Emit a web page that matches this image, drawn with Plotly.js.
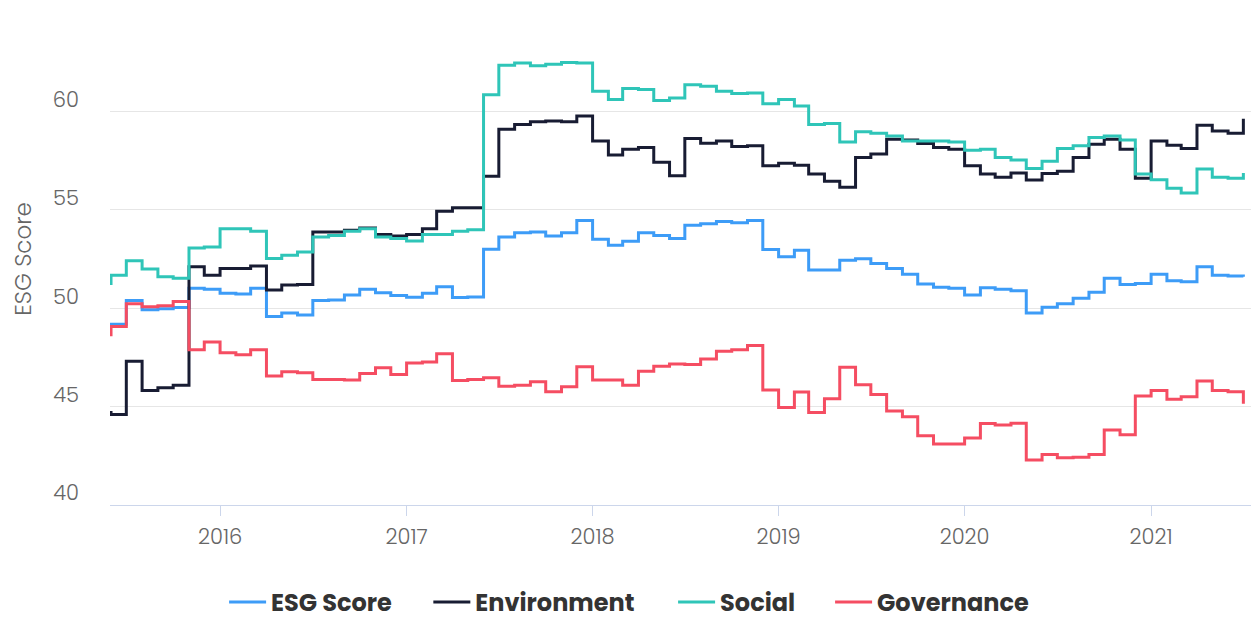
<!DOCTYPE html>
<html>
<head>
<meta charset="utf-8">
<script src="https://cdn.plot.ly/plotly-3.0.1.min.js"></script>
<style>
  html, body { margin: 0; padding: 0; background: #ffffff; }
  #chart { width: 1251px; height: 625px; }
</style>
</head>
<body>
<div id="chart"></div>
<script>
const months = [
  '2015-05-01','2015-06-01','2015-07-01','2015-08-01','2015-09-01','2015-10-01','2015-11-01','2015-12-01',
  '2016-01-01','2016-02-01','2016-03-01','2016-04-01','2016-05-01','2016-06-01','2016-07-01','2016-08-01','2016-09-01','2016-10-01','2016-11-01','2016-12-01',
  '2017-01-01','2017-02-01','2017-03-01','2017-04-01','2017-05-01','2017-06-01','2017-07-01','2017-08-01','2017-09-01','2017-10-01','2017-11-01','2017-12-01',
  '2018-01-01','2018-02-01','2018-03-01','2018-04-01','2018-05-01','2018-06-01','2018-07-01','2018-08-01','2018-09-01','2018-10-01','2018-11-01','2018-12-01',
  '2019-01-01','2019-02-01','2019-03-01','2019-04-01','2019-05-01','2019-06-01','2019-07-01','2019-08-01','2019-09-01','2019-10-01','2019-11-01','2019-12-01',
  '2020-01-01','2020-02-01','2020-03-01','2020-04-01','2020-05-01','2020-06-01','2020-07-01','2020-08-01','2020-09-01','2020-10-01','2020-11-01','2020-12-01',
  '2021-01-01','2021-02-01','2021-03-01','2021-04-01','2021-05-01','2021-06-01','2021-07-01'
];

const esgScore = [
  49.19, 49.19, 50.39, 49.92, 49.97, 50.03, 51.01, 50.96,
  50.76, 50.72, 51.01, 49.58, 49.75, 49.66, 50.39, 50.42, 50.67, 50.96, 50.79, 50.64,
  50.56, 50.76, 51.09, 50.54, 50.57, 53.00, 53.62, 53.84, 53.87, 53.67, 53.84, 54.46,
  53.50, 53.20, 53.40, 53.84, 53.70, 53.54, 54.21, 54.29, 54.41, 54.34, 54.46, 52.98,
  52.61, 52.95, 51.94, 51.94, 52.44, 52.51, 52.27, 52.02, 51.73, 51.23, 51.06, 51.01,
  50.67, 51.04, 50.96, 50.89, 49.75, 50.05, 50.22, 50.51, 50.81, 51.52, 51.21, 51.26,
  51.72, 51.40, 51.35, 52.10, 51.68, 51.63, 51.60
];

const environment = [
  44.70, 44.60, 47.31, 45.82, 45.96, 46.09, 52.10, 51.68,
  52.02, 52.02, 52.15, 50.93, 51.18, 51.20, 53.87, 53.87, 53.96, 54.07, 53.75, 53.67,
  53.74, 54.04, 54.93, 55.10, 55.10, 56.70, 59.09, 59.34, 59.48, 59.51, 59.48, 59.76,
  58.50, 57.78, 58.08, 58.16, 57.41, 56.73, 58.62, 58.38, 58.50, 58.22, 58.25, 57.24,
  57.37, 57.27, 56.82, 56.45, 56.14, 57.66, 57.83, 58.59, 58.55, 58.37, 58.16, 58.08,
  57.24, 56.82, 56.65, 56.87, 56.52, 56.85, 56.96, 57.66, 58.33, 58.59, 58.08, 56.60,
  58.50, 58.28, 58.11, 59.29, 59.01, 58.89, 59.63
];

const social = [
  51.26, 51.68, 52.41, 51.99, 51.60, 51.52, 53.06, 53.11,
  54.04, 54.04, 53.91, 52.53, 52.69, 52.86, 53.62, 53.70, 53.91, 54.04, 53.62, 53.54,
  53.42, 53.74, 53.74, 53.91, 53.99, 60.84, 62.34, 62.46, 62.32, 62.39, 62.49, 62.46,
  61.03, 60.61, 61.16, 61.11, 60.56, 60.68, 61.36, 61.28, 61.03, 60.91, 60.94, 60.39,
  60.61, 60.27, 59.34, 59.39, 58.45, 58.96, 58.89, 58.75, 58.50, 58.50, 58.50, 58.45,
  58.03, 58.08, 57.66, 57.53, 57.10, 57.47, 58.11, 58.25, 58.67, 58.75, 58.55, 56.82,
  56.53, 56.09, 55.86, 57.07, 56.65, 56.60, 56.87
];

const governance = [
  48.65, 49.07, 50.22, 50.08, 50.13, 50.34, 47.89, 48.28,
  47.73, 47.64, 47.89, 46.55, 46.77, 46.72, 46.38, 46.38, 46.35, 46.68, 46.97, 46.63,
  47.22, 47.27, 47.68, 46.33, 46.38, 46.46, 46.04, 46.09, 46.26, 45.76, 46.01, 47.02,
  46.35, 46.35, 46.09, 46.80, 47.05, 47.16, 47.14, 47.42, 47.81, 47.89, 48.11, 45.84,
  44.95, 45.74, 44.70, 45.40, 47.00, 46.11, 45.62, 44.78, 44.49, 43.52, 43.10, 43.10,
  43.40, 44.14, 44.07, 44.16, 42.29, 42.56, 42.40, 42.42, 42.56, 43.81, 43.57, 45.54,
  45.82, 45.37, 45.50, 46.30, 45.82, 45.76, 45.15
];

const seriesNames = ['ESG Score', 'Environment', 'Social', 'Governance'];
const seriesColors = ['#3d9cf7', '#181c33', '#2fc5b8', '#f54d62'];
const seriesValues = [esgScore, environment, social, governance];
const legendIds = ['legend', 'legend2', 'legend3', 'legend4'];
const legendX = [0.1000, 0.2790, 0.4935, 0.6311];

const FONT = 'Poppins, Inter, "Open Sans", sans-serif';

const traces = seriesNames.map((name, k) => ({
  type: 'scatter',
  mode: 'lines',
  name: name,
  legend: legendIds[k],
  x: months,
  y: seriesValues[k],
  line: { shape: 'hv', width: 3, color: seriesColors[k] }
}));

const layout = {
  width: 1251,
  height: 625,
  margin: { l: 110, r: 0, t: 13, b: 118 },
  paper_bgcolor: '#ffffff',
  plot_bgcolor: '#ffffff',
  font: { family: FONT, color: '#666666' },
  showlegend: true,
  xaxis: {
    type: 'date',
    range: ['2015-05-30', '2021-07-16'],
    tick0: '2016-01-01',
    dtick: 'M12',
    tickformat: '%Y',
    showgrid: false,
    zeroline: false,
    showline: true,
    linecolor: '#ccd6eb',
    linewidth: 1,
    ticks: 'outside',
    ticklen: 10,
    tickcolor: '#ccd6eb',
    tickwidth: 1,
    ticklabelstandoff: 3,
    tickfont: { family: FONT, size: 21, color: '#666666', weight: 300 },
    fixedrange: true
  },
  yaxis: {
    range: [40, 65],
    tickvals: [40, 45, 50, 55, 60, 65],
    ticktext: ['40', '45', '50', '55', '60', ''],
    showgrid: true,
    gridcolor: '#e6e6e6',
    gridwidth: 1,
    zeroline: false,
    showline: false,
    ticks: '',
    ticklabelstandoff: 30,
    ticklabelshift: -12,
    tickfont: { family: FONT, size: 21, color: '#666666', weight: 300 },
    automargin: false,
    title: { text: 'ESG Score', font: { family: FONT, size: 23, color: '#666666', weight: 300 }, standoff: 14 },
    fixedrange: true
  }
};

legendIds.forEach((id, k) => {
  layout[id] = {
    orientation: 'h',
    x: legendX[k],
    xanchor: 'left',
    y: -0.198,
    yanchor: 'middle',
    bgcolor: 'rgba(0,0,0,0)',
    font: { family: FONT, size: 24, color: '#333333', weight: 700 },
    itemwidth: 37
  };
});

Plotly.newPlot('chart', traces, layout, { displayModeBar: false, staticPlot: true });
</script>
</body>
</html>
